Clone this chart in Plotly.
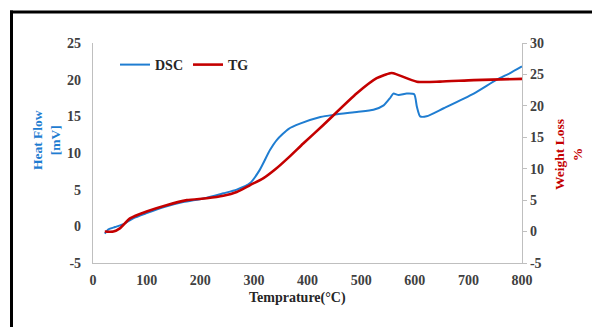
import plotly.graph_objects as go

# DSC heat flow (mV) vs temperature (°C)
dsc_temp = [22, 29, 41, 57, 75, 100, 131, 168, 206, 243, 268, 293, 311, 330, 343, 365,
            386, 424, 448, 492, 523, 542, 554, 560, 570, 585, 599, 604, 610, 622, 654,
            710, 753, 778, 800]
dsc_flow = [-1.0, -0.4, -0.1, 0.3, 1.1, 1.8, 2.6, 3.3, 3.8, 4.5, 5.0, 5.9, 7.7, 10.4, 11.8, 13.3,
            14.0, 14.9, 15.2, 15.6, 15.9, 16.5, 17.5, 18.1, 17.9, 18.1, 18.0, 16.3, 15.0, 15.0, 16.1,
            18.1, 20.0, 20.9, 21.8]

# TG weight loss (%) vs temperature (°C)
tg_temp = [22, 38, 50, 69, 100, 137, 175, 212, 243, 268, 293, 318, 340, 365, 392, 430, 492,
           529, 554, 560, 604, 647, 710, 800]
tg_loss = [0.0, 0.0, 0.5, 2.1, 3.2, 4.2, 5.0, 5.3, 5.7, 6.3, 7.4, 8.5, 9.9, 11.8, 14.0, 17.0, 22.0,
           24.4, 25.2, 25.2, 23.85, 23.85, 24.1, 24.3]

x_ticks = [0, 100, 200, 300, 400, 500, 600, 700, 800]
left_ticks = [-5, 0, 5, 10, 15, 20, 25]
right_ticks = [-5, 0, 5, 10, 15, 20, 25, 30]

BLUE = "#1f7dd1"
RED = "#c40000"
TICK_COLOR = "#404040"
AXIS_COLOR = "#bfbfbf"
FONT = "Liberation Serif"

W, H = 592, 327
L, R, T, B = 93, 70, 43, 64
pw, ph = W - L - R, H - T - B


def px_to_paper_x(px):
    return (px - L) / pw


def px_to_paper_y(py):
    return 1 - (py - T) / ph


fig = go.Figure()
fig.add_trace(go.Scatter(x=dsc_temp, y=dsc_flow, name="DSC", mode="lines",
                         line=dict(color=BLUE, width=2, shape="spline", smoothing=0.6),
                         yaxis="y"))
fig.add_trace(go.Scatter(x=tg_temp, y=tg_loss, name="TG", mode="lines",
                         line=dict(color=RED, width=2.6, shape="spline", smoothing=0.6),
                         yaxis="y2"))

tick_font = dict(family=FONT, size=14, color=TICK_COLOR, weight="bold")

fig.update_layout(
    width=W, height=H,
    margin=dict(l=L, r=R, t=T, b=B),
    paper_bgcolor="white", plot_bgcolor="white",
    font=dict(family=FONT),
    xaxis=dict(range=[0, 800], tickvals=x_ticks, ticktext=[str(v) for v in x_ticks],
               ticks="", showgrid=False, zeroline=False,
               showline=True, linecolor=AXIS_COLOR, linewidth=1.3, tickfont=tick_font,
               ticklabelstandoff=4),
    yaxis=dict(range=[-5, 25], tickvals=left_ticks, ticktext=[str(v) for v in left_ticks],
               ticks="", showgrid=False, zeroline=False,
               showline=True, linecolor=AXIS_COLOR, linewidth=1.3, tickfont=tick_font,
               ticklabelstandoff=8),
    yaxis2=dict(range=[-5, 30], tickvals=right_ticks, ticktext=[str(v) for v in right_ticks],
                overlaying="y", side="right",
                ticks="outside", ticklen=4, tickcolor=AXIS_COLOR, showgrid=False, zeroline=False,
                showline=True, linecolor=AXIS_COLOR, linewidth=1.3, tickfont=tick_font),
    legend=dict(orientation="h", x=px_to_paper_x(115), y=px_to_paper_y(65),
                xanchor="left", yanchor="middle", bgcolor="rgba(0,0,0,0)",
                font=dict(family=FONT, size=14, color="#262626", weight="bold"),
                itemwidth=30),
    showlegend=True,
)

# Axis titles
fig.add_annotation(text="Heat Flow<br>[mV]", textangle=-90, showarrow=False,
                   xref="paper", yref="paper", x=px_to_paper_x(46), y=px_to_paper_y(140),
                   xanchor="center", yanchor="middle",
                   font=dict(family=FONT, size=13.5, color=BLUE, weight="bold"))
fig.add_annotation(text="Weight Loss<br>%", textangle=-90, showarrow=False,
                   xref="paper", yref="paper", x=px_to_paper_x(568), y=px_to_paper_y(155),
                   xanchor="center", yanchor="middle",
                   font=dict(family=FONT, size=13.5, color=RED, weight="bold"))
fig.add_annotation(text="Temprature(°C)", showarrow=False,
                   xref="paper", yref="paper", x=px_to_paper_x(297), y=px_to_paper_y(298),
                   xanchor="center", yanchor="middle",
                   font=dict(family=FONT, size=14, color="#262626", weight="bold"))

# Frame lines along top and left edges
fig.add_shape(type="line", xref="paper", yref="paper",
              x0=px_to_paper_x(10), x1=px_to_paper_x(600),
              y0=px_to_paper_y(12), y1=px_to_paper_y(12),
              line=dict(color="black", width=3))
fig.add_shape(type="line", xref="paper", yref="paper",
              x0=px_to_paper_x(11.5), x1=px_to_paper_x(11.5),
              y0=px_to_paper_y(10.5), y1=px_to_paper_y(340),
              line=dict(color="black", width=3))

fig.write_html("out.html")
